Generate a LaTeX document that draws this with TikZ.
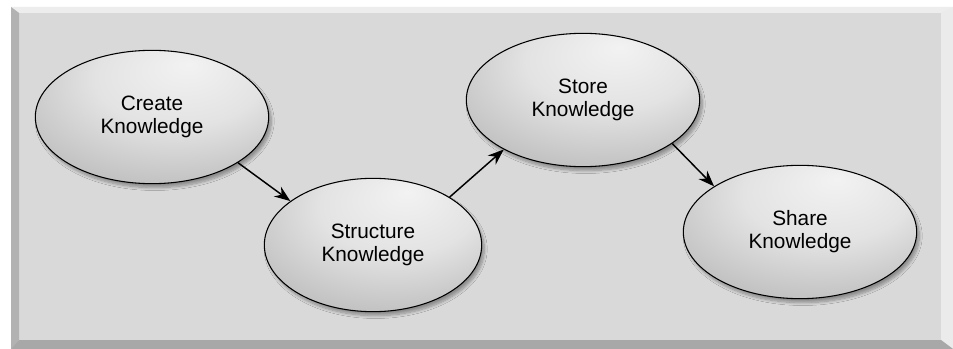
\documentclass[tikz,border=0pt]{standalone}
\usepackage{fontspec}
\setmainfont{Liberation Sans}
\usetikzlibrary{shapes.geometric,arrows.meta,shadows.blur}

% soft light patch near the top of each bubble
\pgfdeclareradialshading{bubble}{\pgfpoint{8bp}{20bp}}{%
  color(0bp)=(black!5); color(18bp)=(black!11); color(40bp)=(black!28); color(66bp)=(black!50)}

\begin{document}
\begin{tikzpicture}[x=0.75pt,y=-0.75pt,
  bubble/.style={ellipse,draw=black,line width=0.8pt,shading=bubble,
    minimum width=175pt,minimum height=100pt,align=center,
    font=\fontsize{15.6}{17.2}\selectfont,
    blur shadow={shadow xshift=2pt,shadow yshift=-3pt,shadow blur steps=8,shadow opacity=35}},
  flow/.style={-{Stealth[length=12pt,width=9pt]},line width=1.1pt}]
\useasboundingbox (0,0) rectangle (953,349);

% Panel with bevelled edges
\fill[white] (0,0) rectangle (953,349);
\fill[black!15] (11,7) rectangle (953,349);
\fill[black!7] (11,7) -- (953,7) -- (953,13) -- (19,13) -- cycle;
\fill[black!30] (11,7) -- (19,13) -- (19,340) -- (11,349) -- cycle;
\fill[black!8] (941,13) -- (953,7) -- (953,349) -- (941,340) -- cycle;
\fill[black!34] (11,349) -- (19,340) -- (941,340) -- (953,349) -- cycle;

% Stages
\node[bubble] (create) at (152,117) {Create\\Knowledge};
\node[bubble,minimum width=163pt] (structure) at (373,245) {Structure\\Knowledge};
\node[bubble] (store) at (583,100) {Store\\Knowledge};
\node[bubble] (share) at (800,232) {Share\\Knowledge};

% Flow between stages
\draw[flow] (create.-28) -- (structure.152);
\draw[flow] (structure.32) -- (store.212);
\draw[flow] (store.-26) -- (share.152);
\end{tikzpicture}
\end{document}
